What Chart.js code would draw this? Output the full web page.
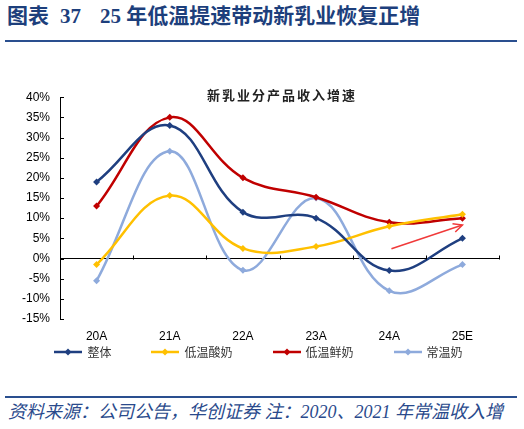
<!DOCTYPE html>
<html><head><meta charset="utf-8">
<script src="https://cdn.jsdelivr.net/npm/chart.js@4.4.0/dist/chart.umd.min.js"></script>
<style>
html,body{margin:0;padding:0;background:#fff;width:524px;height:429px;overflow:hidden;}
#wrap{position:relative;width:524px;height:429px;}
.t{position:absolute;white-space:nowrap;font-family:"Liberation Serif","Noto Sans CJK SC",serif;font-weight:bold;color:#1d3f7c;font-size:21px;line-height:21px;top:6px;letter-spacing:0px;}
.hr{position:absolute;left:5px;width:512px;height:2px;background:#2a4f8f;}
#ctitle{position:absolute;top:88px;left:207px;font-family:"Noto Sans CJK SC",sans-serif;font-weight:bold;font-size:13px;line-height:14px;letter-spacing:2px;color:#222;white-space:nowrap;}
#foot{position:absolute;left:8px;top:403px;font-family:"Liberation Serif","Noto Sans CJK SC",serif;font-style:italic;font-size:18px;line-height:19px;color:#2a4a8c;white-space:nowrap;}
#c{position:absolute;left:0;top:80px;}
#legend{position:absolute;left:0;width:517px;top:344px;display:flex;justify-content:center;gap:40px;font-family:"Noto Sans CJK SC",sans-serif;font-size:12px;line-height:16px;color:#333;}
#legend .it{display:flex;align-items:center;gap:5px;white-space:nowrap;}
#legend canvas{display:block;}
</style></head>
<body><div id="wrap">
<div class="t" style="left:7px">图表</div>
<div class="t" style="left:60px">37</div>
<div class="t" style="left:100px">25 年低温提速带动新乳业恢复正增</div>
<div class="hr" style="top:40px"></div>
<canvas id="c" width="524" height="275" style="width:524px;height:275px"></canvas>
<div id="ctitle">新乳业分产品收入增速</div>
<div id="legend"></div>
<div class="hr" style="top:396px"></div>
<div id="foot">资料来源：公司公告，华创证券 注：2020、2021 年常温收入增</div>
</div>
<script>
const categories = ['20A','21A','22A','23A','24A','25E'];
const overall = [19, 33, 11.5, 10, -3, 5];
const lowTempYogurt = [-1.5, 15.6, 2.5, 3, 8, 11];
const lowTempFreshMilk = [13, 35, 20, 15.2, 9, 10];
const ambientMilk = [-5.5, 26.6, -2.9, 15, -8, -1.5];
const seriesNames = ['整体','低温酸奶','低温鲜奶','常温奶'];
const yTicks = [-15,-10,-5,0,5,10,15,20,25,30,35,40];
const arrowFrom = [4.03, 2.4];
const arrowTo = [5.0, 8.3];

const colors = ['#1f3f80','#ffc000','#c00000','#8eaadc'];

function legendIcon(color){
  const c = document.createElement('canvas');
  c.width = 28; c.height = 8;
  const g = c.getContext('2d');
  g.strokeStyle = color; g.lineWidth = 2.5;
  g.beginPath(); g.moveTo(0,4); g.lineTo(28,4); g.stroke();
  g.fillStyle = color;
  g.beginPath(); g.moveTo(14,0.5); g.lineTo(17.5,4); g.lineTo(14,7.5); g.lineTo(10.5,4); g.closePath(); g.fill();
  return c;
}

const dataArrays = [overall, lowTempYogurt, lowTempFreshMilk, ambientMilk];
const datasets = dataArrays.map((d,i)=>({
  label: seriesNames[i],
  data: d,
  borderColor: colors[i],
  backgroundColor: colors[i],
  borderWidth: 2.5,
  tension: 0.4,
  pointStyle: 'rectRot',
  pointRadius: 3.5,
  pointBorderWidth: 0,
  pointBackgroundColor: colors[i],
  fill: false
}));

const htmlLegend = {
  id: 'htmlLegend',
  afterUpdate(chart){
    const box = document.getElementById('legend');
    box.innerHTML = '';
    chart.data.datasets.forEach((ds,i)=>{
      const it = document.createElement('div'); it.className = 'it';
      it.appendChild(legendIcon(ds.borderColor));
      const sp = document.createElement('span'); sp.textContent = ds.label;
      it.appendChild(sp); box.appendChild(it);
    });
  }
};

const decor = {
  id: 'decor',
  afterDatasetsDraw(chart){
    const {ctx, scales:{x,y}, chartArea} = chart;
    ctx.save();
    ctx.strokeStyle = '#000'; ctx.lineWidth = 1;
    yTicks.forEach(v=>{
      const py = Math.round(y.getPixelForValue(v))+0.5;
      ctx.beginPath(); ctx.moveTo(chartArea.left, py); ctx.lineTo(chartArea.left+4, py); ctx.stroke();
    });
    const zy = Math.round(y.getPixelForValue(0))+0.5;
    for(let i=0;i<=categories.length;i++){
      const px = Math.round(x.getPixelForValue(i-0.5))+0.5;
      ctx.beginPath(); ctx.moveTo(px, zy); ctx.lineTo(px, zy-4); ctx.stroke();
    }
    const x1 = x.getPixelForValue(arrowFrom[0]), y1 = y.getPixelForValue(arrowFrom[1]);
    const x2 = x.getPixelForValue(arrowTo[0]), y2 = y.getPixelForValue(arrowTo[1]);
    ctx.strokeStyle = '#f03a3a'; ctx.lineWidth = 1.5;
    ctx.beginPath(); ctx.moveTo(x1,y1); ctx.lineTo(x2,y2); ctx.stroke();
    const ang = Math.atan2(y2-y1, x2-x1), L = 10;
    ctx.beginPath();
    ctx.moveTo(x2 - L*Math.cos(ang-0.45), y2 - L*Math.sin(ang-0.45));
    ctx.lineTo(x2,y2);
    ctx.lineTo(x2 - L*Math.cos(ang+0.45), y2 - L*Math.sin(ang+0.45));
    ctx.stroke();
    ctx.restore();
  }
};

new Chart(document.getElementById('c'), {
  type: 'line',
  data: { labels: categories, datasets },
  options: {
    responsive: false,
    animation: false,
    devicePixelRatio: 1,
    layout: { padding: { left: 0, right: 25, top: 15, bottom: 0 } },
    plugins: {
      tooltip: { enabled: false },
      title: { display: false },
      legend: { display: false }
    },
    scales: {
      x: {
        offset: true,
        grid: { display: false },
        border: { display: false },
        afterFit(scale){ scale.height = 36; },
        ticks: { color: '#000', padding: 2, font: { family: '"Liberation Sans", Arial, sans-serif', size: 12 } }
      },
      y: {
        min: -15, max: 40,
        afterBuildTicks(scale){ scale.ticks = yTicks.map(v=>({value:v})); },
        afterFit(scale){ scale.width = 60; },
        grid: {
          drawTicks: false,
          color: c => (c.tick && c.tick.value === 0) ? '#000' : 'rgba(0,0,0,0)',
          lineWidth: 1
        },
        border: { display: true, color: '#000', width: 1 },
        ticks: {
          autoSkip: false,
          color: '#000', padding: 10,
          font: { family: '"Liberation Sans", Arial, sans-serif', size: 12 },
          callback: v => v + '%'
        }
      }
    }
  },
  plugins: [decor, htmlLegend]
});
</script>
</body></html>
